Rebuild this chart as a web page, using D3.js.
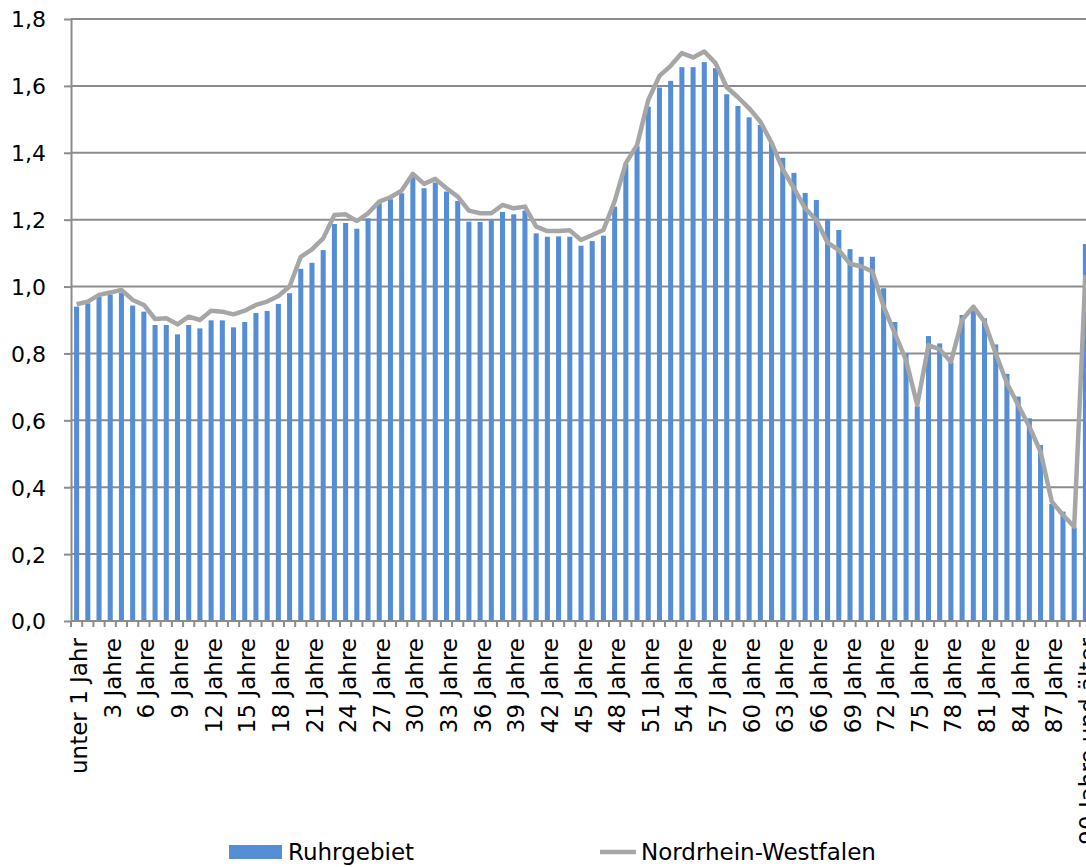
<!DOCTYPE html>
<html lang="de">
<head>
<meta charset="UTF-8">
<title>Ruhrgebiet / NRW</title>
<style>
  * { margin: 0; padding: 0; }
  body { background: #fff; overflow: hidden; }
  svg { display: block; font-family: 'DejaVu Sans', sans-serif; }
  .lbl { font-size: 22px; fill: #000; }
  .xl, .lg { font-size: 23px; fill: #000; }
</style>
</head>
<body>
<svg width="1086" height="867"></svg>
<script src="https://d3js.org/d3.v7.min.js"></script>
<script>
// Altersgruppen
const ages = ["unter 1 Jahr", "1 Jahr"];
for (let i = 2; i < 90; i++) ages.push(i + " Jahre");
ages.push("90 Jahre und älter");

// Ruhrgebiet (Balken)
const ruhr = [
  0.94, 0.95, 0.97, 0.976, 0.982, 0.943, 0.925, 0.885, 0.885, 0.857, 0.885, 0.875, 0.899, 0.899, 0.878, 0.894, 0.921,
  0.927, 0.948, 0.98, 1.053, 1.071, 1.109, 1.187, 1.19, 1.173, 1.204, 1.249, 1.261, 1.279, 1.327, 1.294, 1.311,
  1.284, 1.256, 1.194, 1.193, 1.198, 1.223, 1.216, 1.227, 1.159, 1.149, 1.15, 1.149, 1.122, 1.136, 1.152, 1.239,
  1.367, 1.42, 1.538, 1.595, 1.615, 1.656, 1.656, 1.671, 1.653, 1.575, 1.54, 1.506, 1.483, 1.429,
  1.385, 1.34, 1.28, 1.259, 1.201, 1.169, 1.112, 1.089, 1.089, 0.995, 0.894, 0.8, 0.642, 0.852, 0.83,
  0.775, 0.915, 0.935, 0.905, 0.827, 0.739, 0.671, 0.606, 0.526, 0.35, 0.327, 0.28, 1.127
];

// Nordrhein-Westfalen (Linie)
const nrw = [
  0.947, 0.955, 0.975, 0.982, 0.99, 0.96, 0.945, 0.903, 0.905, 0.887, 0.91, 0.9, 0.928, 0.925, 0.917, 0.928, 0.945,
  0.955, 0.972, 1.0, 1.089, 1.111, 1.144, 1.214, 1.216, 1.196, 1.219, 1.254, 1.267, 1.287, 1.337, 1.307, 1.322,
  1.294, 1.269, 1.227, 1.219, 1.219, 1.244, 1.234, 1.239, 1.179, 1.166, 1.166, 1.168, 1.139, 1.154, 1.169, 1.255,
  1.369, 1.423, 1.558, 1.63, 1.66, 1.698, 1.685, 1.703, 1.668, 1.596, 1.566, 1.533, 1.493, 1.43,
  1.35, 1.294, 1.234, 1.199, 1.131, 1.109, 1.068, 1.06, 1.045, 0.94, 0.86, 0.78, 0.646, 0.825, 0.812,
  0.775, 0.9, 0.94, 0.895, 0.8, 0.711, 0.646, 0.581, 0.506, 0.357, 0.317, 0.282, 1.035
];

const yTicks = [0, 0.2, 0.4, 0.6, 0.8, 1.0, 1.2, 1.4, 1.6, 1.8];

const seriesNames = ["Ruhrgebiet", "Nordrhein-Westfalen"];

const BAR = '#558ED5', LINE = '#A6A6A6', GRID = '#8C8C8C';

const svg = d3.select('svg');
const mLeft = 71, mRight = 1091, mTop = 19, mBottom = 621;

const x = d3.scaleBand().domain(ages).range([mLeft, mRight]).paddingInner(0.55).paddingOuter(0.275);
const xb = d3.scaleBand().domain(ages).range([mLeft, mRight]);
const y = d3.scaleLinear().domain([0, 1.8]).range([mBottom, mTop]);

// gridlines
svg.append('g').selectAll('line')
  .data(yTicks.slice(1)).enter().append('line')
  .attr('x1', mLeft).attr('x2', mRight)
  .attr('y1', d => y(d)).attr('y2', d => y(d))
  .attr('stroke', GRID).attr('stroke-width', 2);

// bars
svg.append('g').selectAll('rect')
  .data(ruhr).enter().append('rect')
  .attr('x', (d, i) => x(ages[i]))
  .attr('width', x.bandwidth())
  .attr('y', d => y(d))
  .attr('height', d => y(0) - y(d))
  .attr('fill', BAR);

// line
const line = d3.line()
  .x((d, i) => xb(ages[i]) + xb.bandwidth() / 2)
  .y(d => y(d));
svg.append('path')
  .datum(nrw)
  .attr('d', line)
  .attr('fill', 'none')
  .attr('stroke', LINE)
  .attr('stroke-width', 4.5)
  .attr('stroke-linejoin', 'round');

// y axis
const yAxis = svg.append('g')
  .attr('transform', 'translate(' + mLeft + ',0)')
  .call(d3.axisLeft(y).tickValues(yTicks).tickSize(7).tickSizeOuter(0)
    .tickFormat(d => d.toFixed(1).replace('.', ',')));
yAxis.attr('font-family', null).attr('font-size', null);
yAxis.select('.domain').attr('stroke', GRID).attr('stroke-width', 2);
yAxis.selectAll('.tick line').attr('stroke', GRID).attr('stroke-width', 2);
yAxis.selectAll('.tick text').attr('class', 'lbl').attr('x', -25).attr('dy', '0.36em');

// x axis: ticks at category boundaries
const xg = svg.append('g');
xg.append('line')
  .attr('x1', mLeft).attr('x2', mRight).attr('y1', mBottom).attr('y2', mBottom)
  .attr('stroke', GRID).attr('stroke-width', 2);
xg.selectAll('line.t')
  .data(d3.range(ages.length + 1)).enter().append('line')
  .attr('class', 't')
  .attr('x1', i => mLeft + i * xb.step()).attr('x2', i => mLeft + i * xb.step())
  .attr('y1', mBottom).attr('y2', mBottom + 6)
  .attr('stroke', GRID).attr('stroke-width', 2);
xg.selectAll('text')
  .data(ages.filter((d, i) => i % 3 === 0)).enter().append('text')
  .attr('class', 'xl')
  .attr('text-anchor', 'end')
  .attr('transform', d => 'translate(' + (xb(d) + xb.bandwidth() / 2) + ',638) rotate(-90)')
  .attr('dy', '0.46em')
  .text(d => d);

// legend
const lg = svg.append('g');
lg.append('rect').attr('x', 229).attr('y', 845).attr('width', 53).attr('height', 14).attr('fill', BAR);
lg.append('text').attr('class', 'lg').attr('x', 288).attr('y', 860).text(seriesNames[0]);
lg.append('line').attr('x1', 600).attr('x2', 636).attr('y1', 852).attr('y2', 852)
  .attr('stroke', LINE).attr('stroke-width', 4.5);
lg.append('text').attr('class', 'lg').attr('x', 641).attr('y', 860).text(seriesNames[1]);
</script>
</body>
</html>
